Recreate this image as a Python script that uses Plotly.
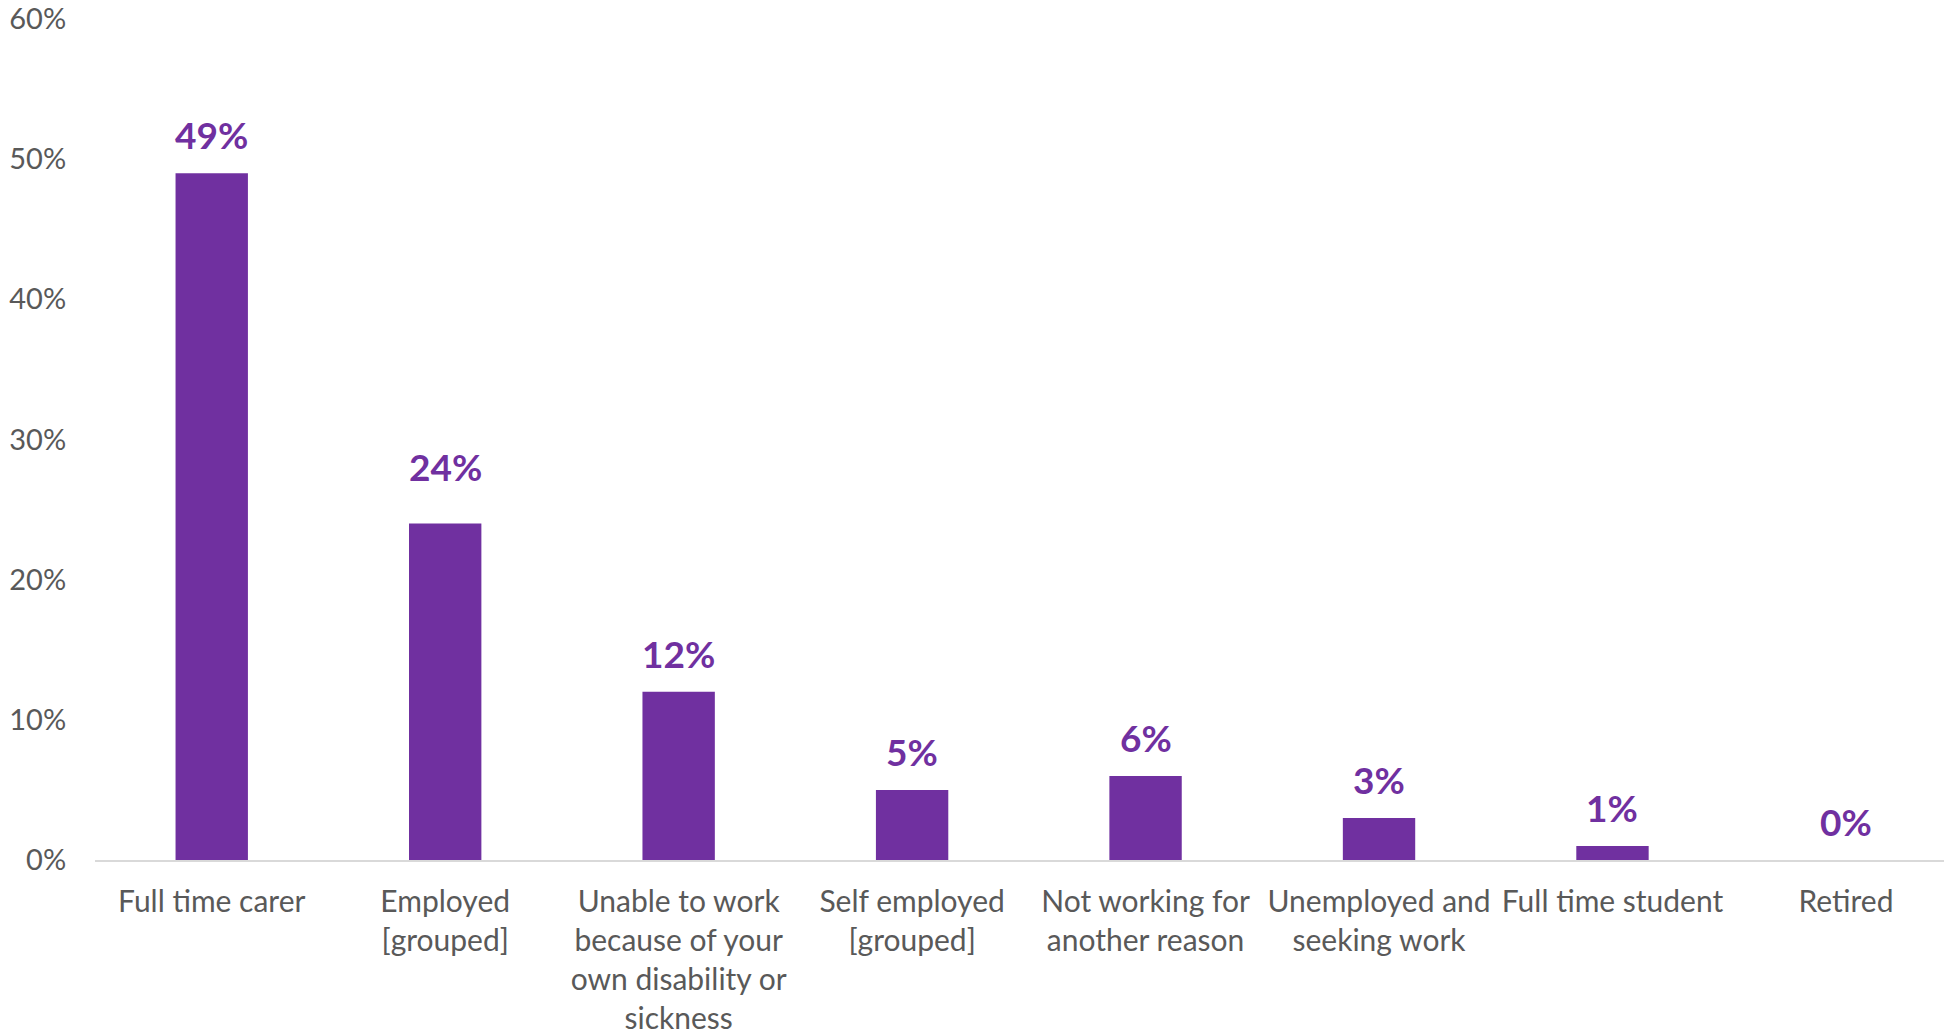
import plotly.graph_objects as go

# Employment status of respondents (share of all respondents, %)
categories = [
    "Full time carer",
    "Employed<br>[grouped]",
    "Unable to work<br>because of your<br>own disability or<br>sickness",
    "Self employed<br>[grouped]",
    "Not working for<br>another reason",
    "Unemployed and<br>seeking work",
    "Full time student",
    "Retired",
]
shares = [49, 24, 12, 5, 6, 3, 1, 0]
y_ticks = [0, 10, 20, 30, 40, 50, 60]

PURPLE = "#7030A0"
GREY_TEXT = "#595959"
FONT = "Lato, 'Open Sans', sans-serif"

# the "Employed" label sits a little higher than the others
label_lift = {1: 19}

fig = go.Figure(
    go.Bar(
        x=categories,
        y=shares,
        marker=dict(color=PURPLE, line=dict(width=0)),
        width=0.31,
        hoverinfo="skip",
    )
)

# value labels above each bar
for i, (cat, val) in enumerate(zip(categories, shares)):
    fig.add_annotation(
        x=cat, y=val, text=f"<b>{val}%</b>",
        showarrow=False, yanchor="bottom", yshift=14 + label_lift.get(i, 0),
        font=dict(family=FONT, size=37, color=PURPLE),
    )

fig.update_layout(
    width=1944, height=1035,
    margin=dict(l=95, r=0, t=17, b=174),
    paper_bgcolor="white", plot_bgcolor="white",
    showlegend=False,
    font=dict(family=FONT, size=30, color=GREY_TEXT),
)
fig.update_xaxes(
    range=[-0.5, 7.42],
    showline=True, linecolor="#D9D9D9", linewidth=2,
    showgrid=False, ticks="outside", ticklen=14, tickcolor="rgba(0,0,0,0)",
    tickfont=dict(family=FONT, size=30, color=GREY_TEXT),
    ticklabeloverflow="allow",
)
fig.update_yaxes(
    range=[0, 60], tickvals=y_ticks,
    ticktext=[f"{t}%" for t in y_ticks],
    showgrid=False, zeroline=False, showline=False,
    ticks="outside", ticklen=22, tickcolor="rgba(0,0,0,0)",
    tickfont=dict(family=FONT, size=29, color=GREY_TEXT),
    ticklabeloverflow="allow",
)

fig.write_html("out.html")
